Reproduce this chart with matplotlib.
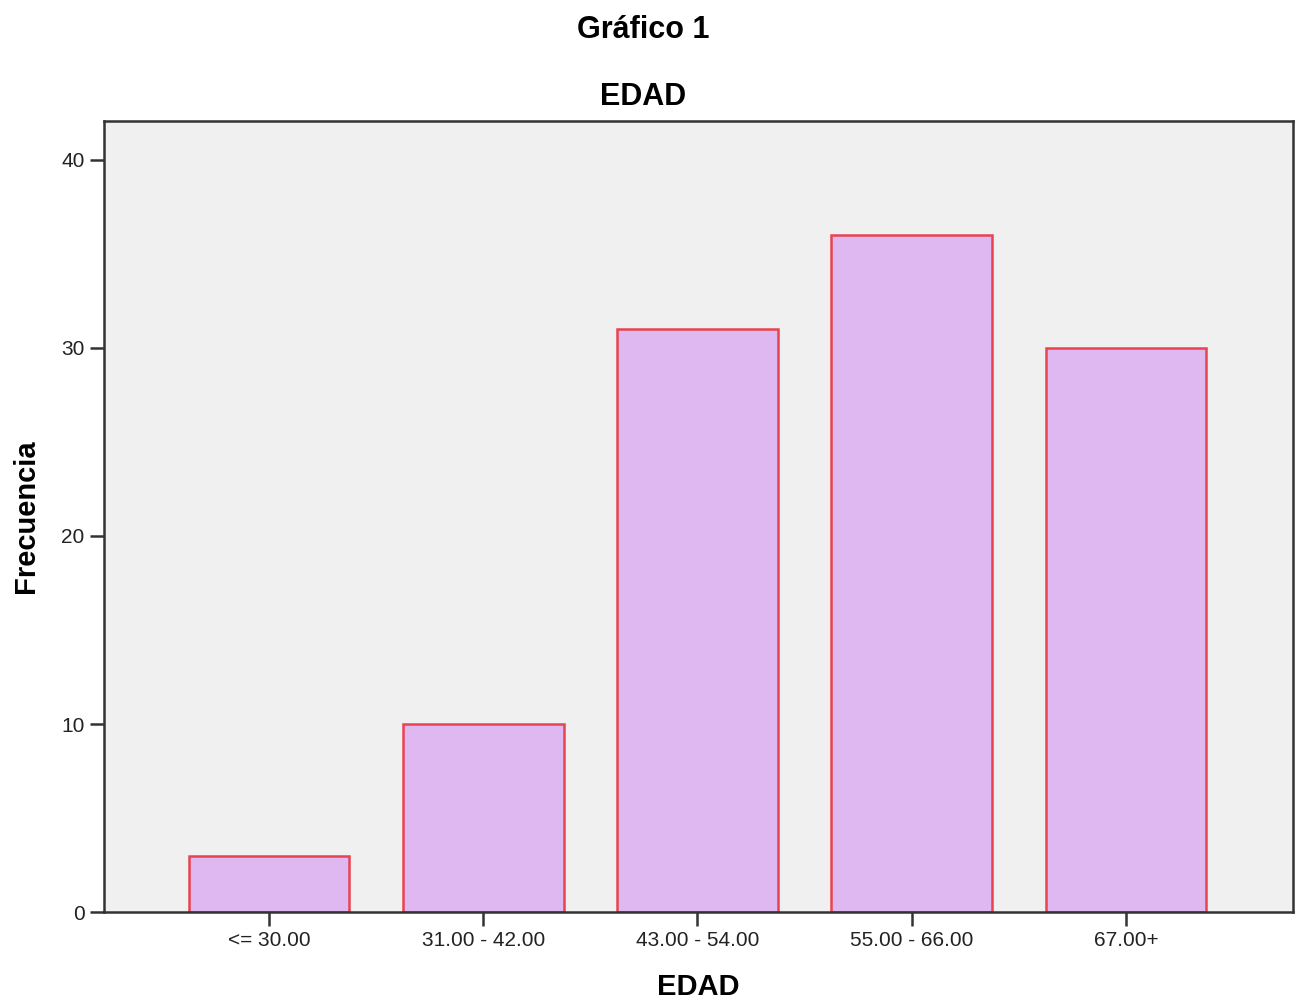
import numpy as np
import matplotlib.pyplot as plt

plt.rcParams['font.family'] = ['Liberation Sans', 'DejaVu Sans']

# Data
categories = ['<= 30.00', '31.00 - 42.00', '43.00 - 54.00', '55.00 - 66.00', '67.00+']
frequencies = [3, 10, 31, 36, 30]
y_ticks = [0, 10, 20, 30, 40]


def plot_histogram(output):
    fig = plt.figure(figsize=(12.97, 10.02), dpi=100)
    ax = fig.add_axes([0.0802, 0.0898, 0.9167, 0.7894])

    x = np.arange(len(categories))
    ax.bar(x, frequencies, width=0.75, color='#dfb8f2',
           edgecolor='#e8434f', linewidth=1.8, zorder=2)

    ax.set_facecolor('#f0f0f0')
    ax.set_xlim(-0.77, 4.78)
    ax.set_ylim(0, 42.07)

    ax.set_xticks(x)
    ax.set_xticklabels(categories)
    ax.set_yticks(y_ticks)
    ax.tick_params(axis='both', direction='out', length=10, width=1.8,
                   color='#333333', labelsize=15, labelcolor='#222222', pad=4)

    for side in ['left', 'right', 'top', 'bottom']:
        ax.spines[side].set_color('#333333')
        ax.spines[side].set_linewidth(1.8)
    ax.spines['bottom'].set_zorder(3)

    ax.set_xlabel('EDAD', fontsize=21, fontweight='bold', labelpad=16)
    ax.set_ylabel('Frecuencia', fontsize=21, fontweight='bold', labelpad=15)

    # both titles are centred on the figure, not on the axes
    fig.text(0.496, 0.970, 'Gráfico 1', fontsize=22, fontweight='bold',
             ha='center', va='center')
    fig.text(0.496, 0.903, 'EDAD', fontsize=22, fontweight='bold',
             ha='center', va='center')

    fig.savefig(output, dpi=100)


if __name__ == '__main__':
    plot_histogram('out.png')
